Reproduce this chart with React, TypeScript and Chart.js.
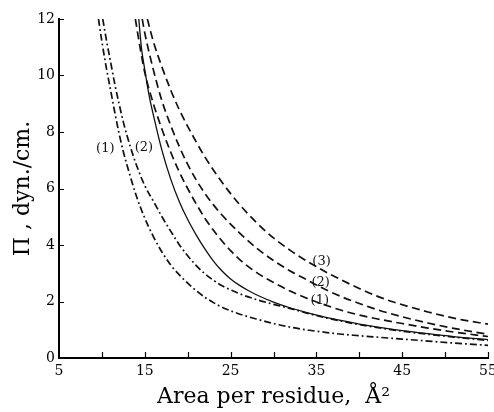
import React, { useEffect, useRef } from "react";
import { Chart, registerables } from "chart.js";

Chart.register(...registerables);

// ---- data ----
const xTickLabels = [5, 15, 25, 35, 45, 55];
const xMinorTicks = [10, 15, 20, 25, 30, 35, 40, 45, 50, 55];
const yTickValues = [0, 2, 4, 6, 8, 10, 12];

const ddot1Area = [9.6, 10, 10.5, 11, 11.5, 12, 12.5, 13, 14, 15, 16, 17, 18, 19, 20, 21, 22, 23, 24, 26, 28, 30, 32, 34, 36, 38, 40, 42, 45, 48, 51, 55];
const ddot1Pi = [12.0, 11.2, 10.3, 9.5, 8.7, 7.95, 7.3, 6.75, 5.75, 4.95, 4.3, 3.75, 3.3, 2.95, 2.65, 2.38, 2.15, 1.96, 1.8, 1.56, 1.38, 1.22, 1.09, 0.99, 0.91, 0.84, 0.79, 0.74, 0.67, 0.6, 0.53, 0.45];

const ddot2Area = [10.1, 10.5, 11, 11.5, 12, 12.5, 13, 13.5, 14, 15, 16, 17, 18, 19, 20, 21, 22, 23, 24, 26, 28, 30, 32, 34, 36, 38, 40, 42, 45, 48, 51, 55];
const ddot2Pi = [12.0, 11.3, 10.5, 9.7, 9.0, 8.35, 7.8, 7.3, 6.85, 6.1, 5.55, 5.0, 4.5, 4.02, 3.62, 3.27, 2.98, 2.75, 2.56, 2.28, 2.07, 1.9, 1.75, 1.58, 1.43, 1.3, 1.18, 1.08, 0.95, 0.84, 0.74, 0.62];

const solidArea = [14.3, 14.6, 15, 15.5, 16, 16.5, 17, 18, 19, 20, 21, 22, 23, 24, 25, 26, 27, 28, 30, 32, 34, 36, 38, 40, 42, 45, 48, 51, 55];
const solidPi = [12.0, 11.0, 10.2, 9.3, 8.6, 7.95, 7.35, 6.35, 5.55, 4.9, 4.35, 3.86, 3.43, 3.08, 2.8, 2.58, 2.4, 2.24, 1.98, 1.77, 1.6, 1.45, 1.32, 1.2, 1.1, 0.97, 0.86, 0.76, 0.65];

const dash1Area = [13.9, 14.5, 15, 16, 17, 18, 19, 20, 21, 22, 23, 24, 25, 26, 28, 30, 32, 34, 36, 38, 40, 42, 45, 48, 51, 55];
const dash1Pi = [12.0, 10.9, 10.1, 9.0, 8.1, 7.3, 6.6, 6.0, 5.45, 4.95, 4.52, 4.14, 3.8, 3.5, 3.03, 2.67, 2.36, 2.1, 1.88, 1.68, 1.52, 1.39, 1.22, 1.06, 0.92, 0.76];

const dash2Area = [14.7, 15, 16, 17, 18, 19, 20, 21, 22, 23, 24, 26, 28, 30, 32, 34, 36, 38, 40, 42, 45, 48, 51, 55];
const dash2Pi = [12.0, 11.5, 10.2, 9.1, 8.25, 7.5, 6.85, 6.3, 5.83, 5.42, 5.06, 4.44, 3.9, 3.45, 3.07, 2.75, 2.43, 2.16, 1.93, 1.72, 1.46, 1.24, 1.05, 0.84];

const dash3Area = [15.3, 16, 17, 18, 19, 20, 22, 24, 26, 28, 30, 32, 34, 36, 38, 40, 42, 44, 46, 48, 50, 52, 55];
const dash3Pi = [12.0, 11.2, 10.3, 9.5, 8.8, 8.2, 7.12, 6.22, 5.45, 4.8, 4.25, 3.8, 3.41, 3.06, 2.75, 2.46, 2.2, 1.98, 1.8, 1.63, 1.48, 1.35, 1.2];

const curveLabels = [
  { text: "(1)", area: 10.4, pi: 7.4 },
  { text: "(2)", area: 14.9, pi: 7.45 },
  { text: "(3)", area: 35.6, pi: 3.41 },
  { text: "(2)", area: 35.5, pi: 2.68 },
  { text: "(1)", area: 35.4, pi: 2.02 },
];

const FONT = "'DejaVu Serif', 'Liberation Serif', serif";

function pts(xs: number[], ys: number[]) {
  return xs.map((x, i) => ({ x, y: ys[i] }));
}

const DASH = [8, 4.5];
const DASHDOT = [7, 3, 1.8, 3];

export default function App() {
  const ref = useRef<HTMLCanvasElement | null>(null);

  useEffect(() => {
    if (!ref.current) return;
    const mk = (data: any, dash: number[], w: number) => ({
      data,
      borderColor: "#111",
      borderWidth: w,
      borderDash: dash,
      pointRadius: 0,
      fill: false,
      cubicInterpolationMode: "monotone" as const,
    });

    const decor = {
      id: "decor",
      afterDatasetsDraw(chart: any) {
        const ctx = chart.ctx;
        const xs = chart.scales.x;
        const ys = chart.scales.y;
        const a = chart.chartArea;
        ctx.save();
        ctx.strokeStyle = "#000";
        ctx.lineWidth = 1.2;
        ctx.setLineDash([]);
        ctx.beginPath();
        yTickValues.forEach((v) => {
          const py = Math.round(ys.getPixelForValue(v)) + 0.5;
          ctx.moveTo(a.left, py);
          ctx.lineTo(a.left + 5, py);
        });
        xMinorTicks.forEach((v) => {
          const px = Math.round(xs.getPixelForValue(v)) + 0.5;
          ctx.moveTo(px, a.bottom);
          ctx.lineTo(px, a.bottom - 6);
        });
        ctx.stroke();
        ctx.fillStyle = "#111";
        ctx.font = `13px ${FONT}`;
        ctx.textAlign = "center";
        ctx.textBaseline = "middle";
        curveLabels.forEach((l) => {
          ctx.fillText(l.text, xs.getPixelForValue(l.area), ys.getPixelForValue(l.pi));
        });
        ctx.restore();
      },
    };

    const chart = new Chart(ref.current, {
      type: "line",
      data: {
        datasets: [
          mk(pts(ddot1Area, ddot1Pi), DASHDOT, 1.7),
          mk(pts(ddot2Area, ddot2Pi), DASHDOT, 1.7),
          mk(pts(solidArea, solidPi), [], 1.3),
          mk(pts(dash1Area, dash1Pi), DASH, 1.7),
          mk(pts(dash2Area, dash2Pi), DASH, 1.7),
          mk(pts(dash3Area, dash3Pi), DASH, 1.7),
        ],
      },
      options: {
        responsive: false,
        animation: false,
        layout: { padding: { top: 19, right: 6, left: 0, bottom: 0 } },
        plugins: { legend: { display: false }, tooltip: { enabled: false } },
        scales: {
          x: {
            type: "linear",
            min: 5,
            max: 55,
            afterBuildTicks: (s: any) => {
              s.ticks = xTickLabels.map((v) => ({ value: v }));
            },
            afterFit: (s: any) => {
              s.height = 54;
              s.paddingLeft = 0;
              s.paddingRight = 0;
            },
            grid: { display: false, drawTicks: false },
            border: { display: true, color: "#000", width: 2 },
            ticks: {
              color: "#000",
              padding: 5,
              maxRotation: 0,
              autoSkip: false,
              font: { family: FONT, size: 14 },
              callback: (v: any) => String(v),
            },
            title: {
              display: true,
              text: "Area per residue,  Å²",
              color: "#000",
              font: { family: FONT, size: 22 },
              padding: { top: 0, bottom: 2 },
            },
          },
          y: {
            type: "linear",
            min: 0,
            max: 12,
            afterBuildTicks: (s: any) => {
              s.ticks = yTickValues.map((v) => ({ value: v }));
            },
            afterFit: (s: any) => {
              s.width = 59;
              s.paddingTop = 0;
              s.paddingBottom = 0;
            },
            grid: { display: false, drawTicks: false },
            border: { display: true, color: "#000", width: 2 },
            ticks: {
              color: "#000",
              padding: 4,
              autoSkip: false,
              font: { family: FONT, size: 14 },
              callback: (v: any) => String(v),
            },
            title: {
              display: true,
              text: "Π , dyn./cm.",
              color: "#000",
              font: { family: FONT, size: 22 },
              padding: { top: 10, bottom: 0 },
            },
          },
        },
      },
      plugins: [decor],
    });
    return () => chart.destroy();
  }, []);

  return (
    <div style={{ position: "fixed", left: 0, top: 0, width: 494, height: 412, background: "#fff" }}>
      <canvas ref={ref} width={494} height={412} style={{ width: 494, height: 412, display: "block" }} />
    </div>
  );
}
